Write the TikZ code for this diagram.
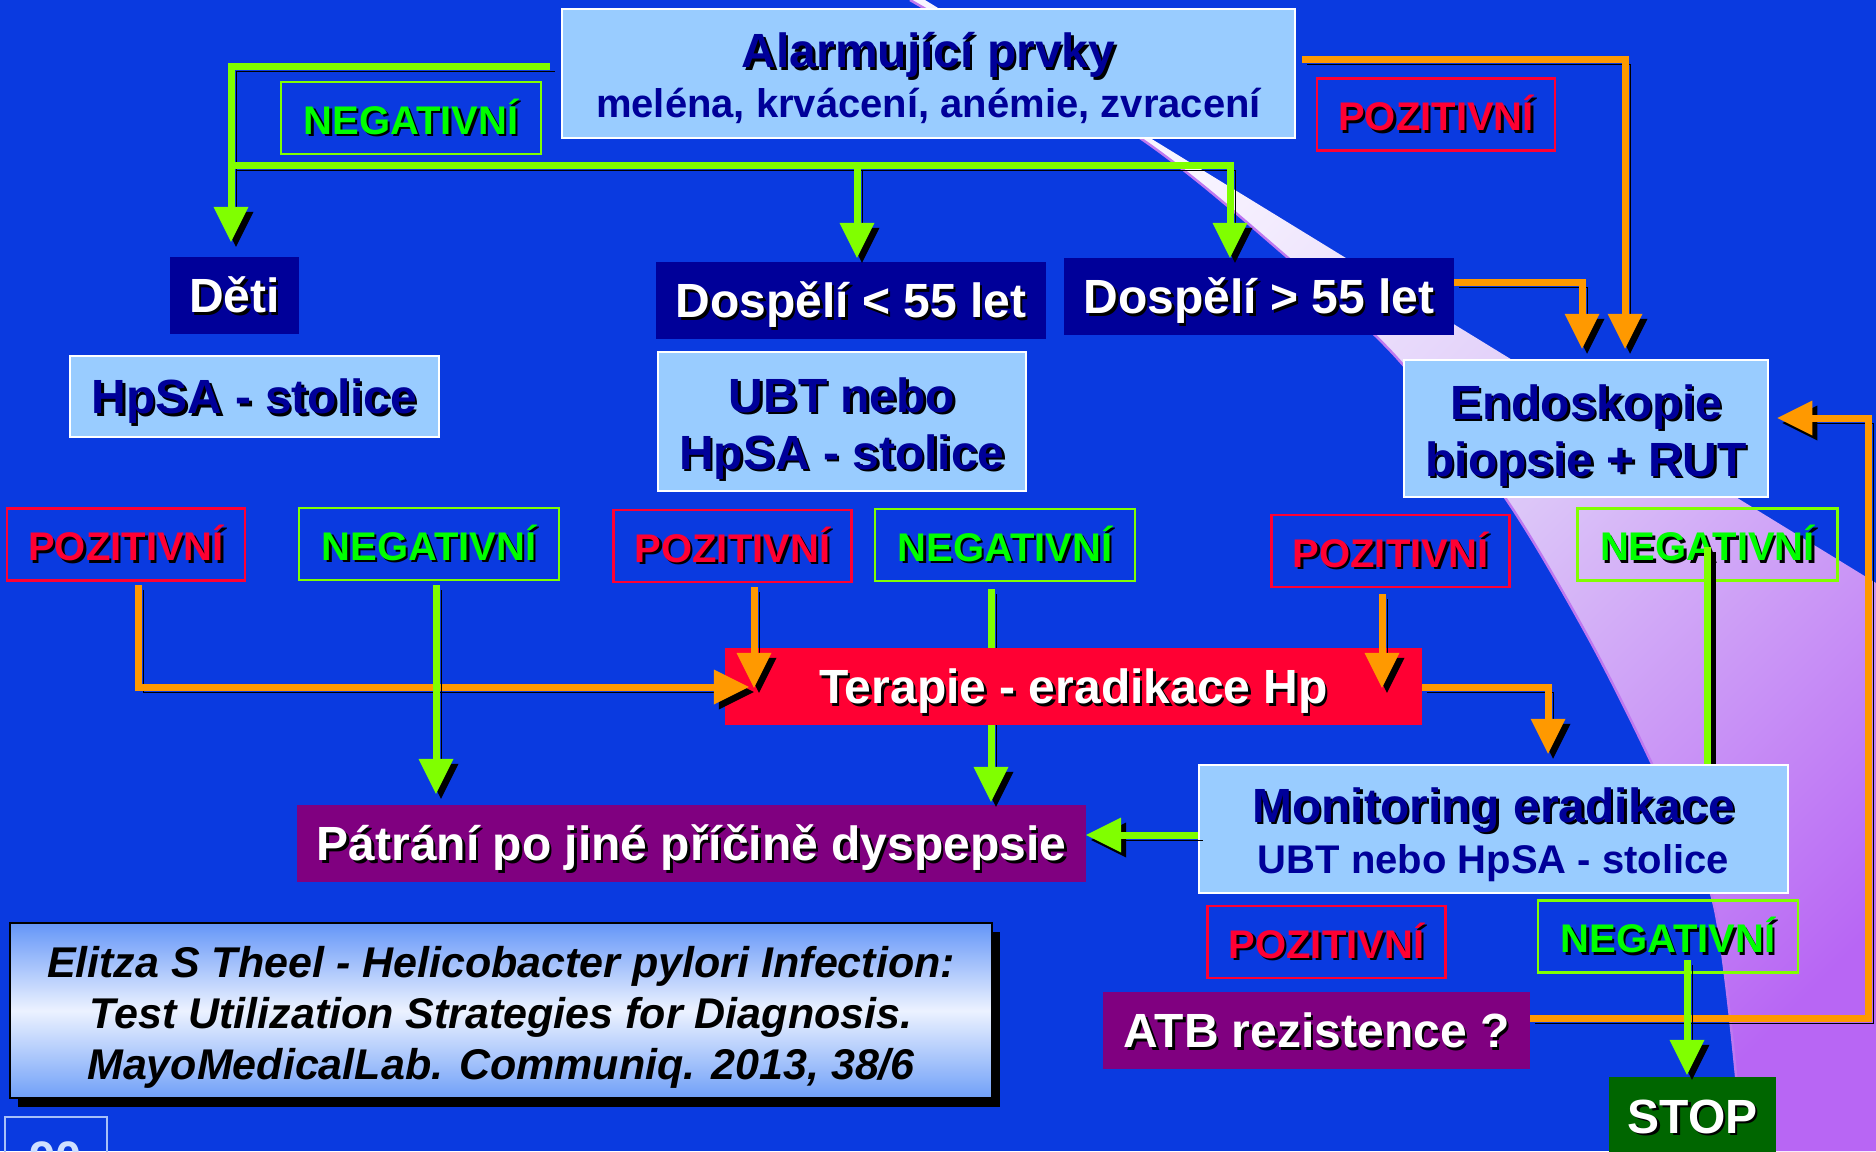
\documentclass[tikz,border=0pt]{standalone}
\usepackage{fontspec}
\setmainfont{Liberation Sans}
\usetikzlibrary{positioning,arrows.meta,shadows}

\definecolor{bgblue}{RGB}{10,58,224}
\definecolor{boxblue}{RGB}{153,204,255}
\definecolor{navy}{RGB}{0,0,153}
\definecolor{hpred}{RGB}{255,0,51}
\definecolor{hpgreen}{RGB}{0,255,0}
\definecolor{linegreen}{RGB}{128,255,0}
\definecolor{lineorange}{RGB}{255,153,0}
\definecolor{hppurple}{RGB}{128,0,128}
\definecolor{stopgreen}{RGB}{0,102,0}
\definecolor{swlight}{RGB}{248,244,255}
\definecolor{swmid}{RGB}{220,198,248}
\definecolor{swdark}{RGB}{184,102,244}
\definecolor{swedge}{RGB}{190,120,240}
\definecolor{citetop}{RGB}{100,150,248}
\definecolor{citemid}{RGB}{236,242,255}
\definecolor{citebot}{RGB}{112,160,248}
\definecolor{numline}{RGB}{168,192,248}
\definecolor{numtext}{RGB}{208,224,255}

% text with a black drop shadow
\newcommand{\sh}[1]{\makebox[0pt][l]{\kern2.5pt\raisebox{-2.5pt}{\color{black}#1}}#1}

\pgfdeclarehorizontalshading{swoosh}{100bp}{color(0bp)=(swlight); color(30bp)=(swlight); color(52bp)=(swmid); color(78bp)=(swdark); color(100bp)=(swdark)}

\tikzset{
  bigfont/.style={font=\bfseries\fontsize{48}{57}\selectfont, text height=34pt, text depth=0pt},
  lightbox/.style={bigfont, draw=white, line width=2.5pt, fill=boxblue, text=navy, align=center, inner sep=0pt},
  navybox/.style={bigfont, fill=navy, text=white, inner sep=0pt},
  posbox/.style={draw=hpred, line width=2.5pt, text=hpred, font=\bfseries\fontsize{40}{48}\selectfont, minimum width=238pt, minimum height=72pt, inner sep=0pt},
  negbox/.style={posbox, draw=linegreen, text=hpgreen, minimum width=260pt},
  citebox/.style={draw=black, line width=2pt, top color=citetop, bottom color=citebot, middle color=citemid, align=center, inner sep=0pt, font=\bfseries\itshape\fontsize{43}{51}\selectfont, text height=138pt, text depth=0pt, minimum width=982pt, minimum height=175pt, drop shadow={shadow xshift=8pt, shadow yshift=-9pt, opacity=1, fill=black}},
  numbox/.style={draw=numline, line width=2pt, text=numtext, font=\bfseries\fontsize{47}{56}\selectfont, minimum width=102pt, minimum height=83pt},
  conn/.style={line width=7pt, preaction={draw=black, transform canvas={shift={(5,5)}}}},
  arrowhead/.style={-{Triangle[width=35pt,length=35pt,line width=0pt]}},
  gline/.style={conn, draw=linegreen},
  oline/.style={conn, draw=lineorange},
  plainshadow/.style={draw=black, line width=7pt},
  plaingreen/.style={draw=linegreen, line width=7pt}
}

\begin{document}
\begin{tikzpicture}[x=1pt,y=-1pt]
\useasboundingbox (0,0) rectangle (1876,1151);
\clip (0,0) rectangle (1876,1151);
% Background
\fill[bgblue] (0,0) rectangle (1876,1151);
\shade[shading=swoosh, shading angle=-45] (910,0) -- (925,0) -- (1876,583) -- (1876,1151) -- (1743,1151)
  -- plot[smooth] coordinates {(1743,1151) (1714,905) (1652,764) (1588,637) (1506,499) (1397,358) (1287,257) (1140,138) (910,0)} -- cycle;
\draw[swedge, line width=2.5pt] plot[smooth] coordinates {(910,0) (1140,138) (1287,257) (1397,358) (1506,499) (1588,637) (1652,764) (1714,905) (1743,1151)};

% Nodes
\node[lightbox, text height=87pt, minimum width=733pt, minimum height=129pt] (alarm) at (928.5,73.5)
  {\sh{Alarmující prvky}\\[-7.5pt] {\fontsize{40}{45}\selectfont meléna, krvácení, anémie, zvracení}};
\node[navybox, minimum width=129pt, minimum height=77pt] (deti) at (234.5,295.5) {\sh{Děti}};
\node[navybox, minimum width=390pt, minimum height=77pt] (dospA) at (851,300.5) {\sh{Dospělí < 55 let}};
\node[navybox, minimum width=390pt, minimum height=77pt] (dospB) at (1259,296.5) {\sh{Dospělí > 55 let}};
\node[lightbox, minimum width=369pt, minimum height=81pt] (hpsa) at (254.5,396.5) {\sh{HpSA - stolice}};
\node[lightbox, text height=95pt, minimum width=368pt, minimum height=139pt] (ubt) at (842,421.5) {\sh{UBT nebo}\\\sh{HpSA - stolice}};
\node[lightbox, text height=95pt, minimum width=364pt, minimum height=137pt] (endo) at (1586,428.5) {\sh{Endoskopie}\\\sh{biopsie + RUT}};
\foreach \name/\x/\y in {posT/1436/114.5, pos1/126/544.5, pos2/732.5/546, pos3/1390.5/551, pos4/1326.5/942}
  \node[posbox] (\name) at (\x,\y) {\sh{POZITIVNÍ}};
\foreach \name/\x/\y in {negT/411/118, neg1/429/544, neg2/1005/545, neg3/1707.5/544.5, neg4/1668/936.5}
  \node[negbox] (\name) at (\x,\y) {\sh{NEGATIVNÍ}};
\node[navybox, fill=hppurple, minimum width=789pt, minimum height=77pt] (pat) at (691.5,843.5) {\sh{Pátrání po jiné příčině dyspepsie}};
\node[lightbox, text height=88pt, minimum width=589pt, minimum height=128pt] (monit) at (1493.5,829)
  {\sh{Monitoring eradikace}\\[-6pt] {\fontsize{40}{45}\selectfont UBT nebo HpSA - stolice}};
\node[navybox, fill=hppurple, minimum width=427pt, minimum height=77pt] (atb) at (1316.5,1030.5) {\sh{ATB rezistence ?}};
\node[navybox, fill=stopgreen, minimum width=167pt, minimum height=78pt] (stop) at (1692.5,1116) {\sh{STOP}};
\node[citebox] (cite) at (501,1010.5) {Elitza S Theel - Helicobacter pylori Infection:\\Test Utilization Strategies for Diagnosis.\\MayoMedicalLab. Communiq. 2013, 38/6};
\node[numbox] (num) at (56,1158.5) {90};

% Lines
\coordinate (n2) at (991,0);
\draw[gline, arrowhead, shorten <=7pt, shorten >=3pt] (neg2.south -| n2) -- (pat.north -| n2);
\node[navybox, fill=hpred, minimum width=697pt, minimum height=77pt] (terapie) at (1073.5,686.5) {\sh{Terapie - eradikace Hp}};

\coordinate (g1) at (231,66);
\coordinate (g2) at (231,165);
\coordinate (g3) at (857,165);
\coordinate (g4) at (1230,165);
\draw[gline, arrowhead, shorten <=11pt, shorten >=15pt] (alarm.west |- g1) -- (g1) -- (deti.north -| g1);
\draw[gline, arrowhead] (g2) -- (g4) -- (dospB.north -| g4);
\draw[gline, arrowhead, shorten >=4pt] (g3) -- (dospA.north -| g3);

\coordinate (o1) at (1625,59);
\coordinate (o2) at (1582,282);
\coordinate (o3) at (138,687);
\coordinate (o4) at (754,0);
\coordinate (o5) at (1382,0);
\coordinate (o6) at (1548,687);
\coordinate (o7) at (1868,1018);
\coordinate (o8) at (1868,418);
\draw[oline, arrowhead, shorten <=6pt, shorten >=10pt] (alarm.east |- o1) -- (o1) -- (endo.north -| o1);
\draw[oline, arrowhead, shorten >=10pt] (dospB.east |- o2) -- (o2) -- (endo.north -| o2);
\draw[oline, arrowhead, shorten <=3pt, shorten >=-24pt] (pos1.south -| o3) -- (o3) -- (terapie.west |- o3);
\draw[oline, arrowhead, shorten <=4pt, shorten >=-40pt] (pos2.south -| o4) -- (terapie.north -| o4);
\draw[oline, arrowhead, shorten <=6pt, shorten >=-40pt] (pos3.south -| o5) -- (terapie.north -| o5);
\draw[oline, arrowhead, shorten >=10pt] (terapie.east |- o6) -- (o6) -- (monit.north -| o6);
\draw[oline, arrowhead, shorten >=8pt] (atb.east |- o7) -- (o7) -- (o8) -- (endo.east |- o8);

\coordinate (n1) at (436,0);
\coordinate (n3) at (1707,547);
\coordinate (n3s) at (1712,552);
\coordinate (n4) at (0,835);
\coordinate (n5) at (1687,960);
\draw[gline, arrowhead, shorten <=4pt, shorten >=11pt] (neg1.south -| n1) -- (pat.north -| n1);
\draw[plainshadow] (n3s) -- (monit.north -| n3s);
\draw[plaingreen] (n3) -- (monit.north -| n3);
\draw[gline, arrowhead] (monit.west |- n4) -- (pat.east |- n4);
\draw[gline, arrowhead, shorten >=2pt] (n5) -- (stop.north -| n5);
\end{tikzpicture}
\end{document}
